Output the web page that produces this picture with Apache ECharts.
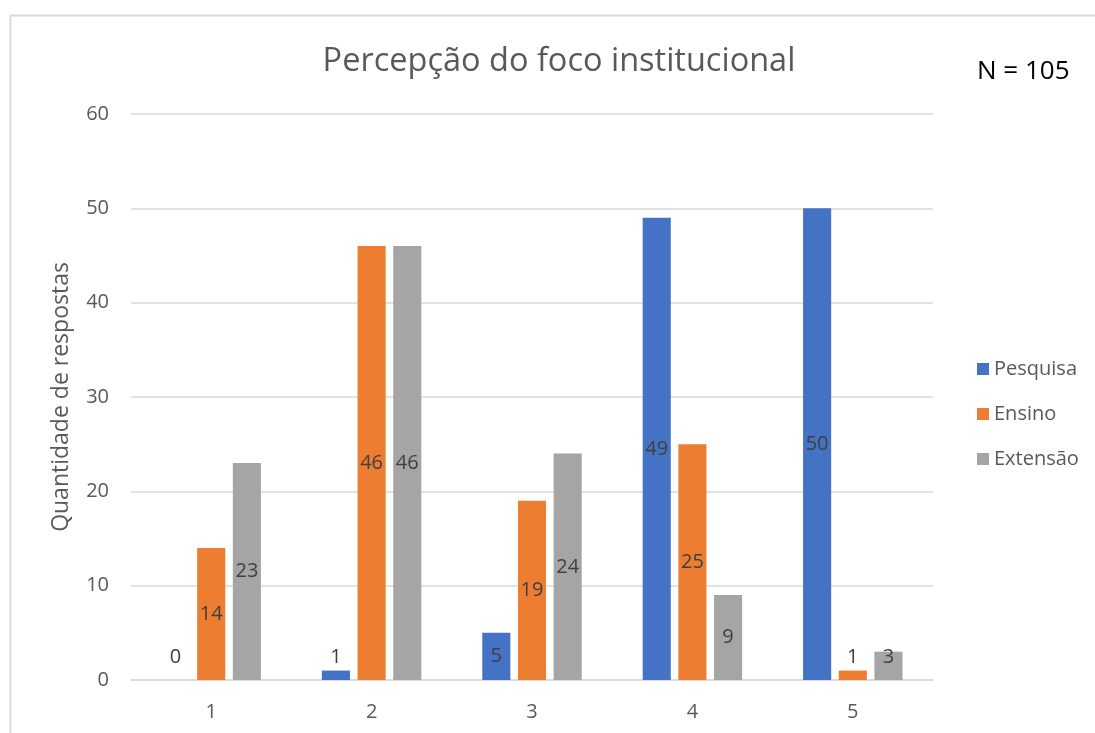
<!DOCTYPE html>
<html>
<head>
<meta charset="utf-8">
<script src="https://cdn.jsdelivr.net/npm/echarts@6/dist/echarts.min.js"></script>
<style>
  html, body { margin: 0; padding: 0; background: #fff; }
  #main { width: 1095px; height: 733px; }
</style>
</head>
<body>
<div id="main"></div>
<script>
var categories = ['1', '2', '3', '4', '5'];
var pesquisa = [0, 1, 5, 49, 50];
var ensino = [14, 46, 19, 25, 1];
var extensao = [23, 46, 24, 9, 3];
var yTicks = [0, 10, 20, 30, 40, 50, 60];

var chartDom = document.getElementById('main');
var myChart = echarts.init(chartDom, null, { renderer: 'canvas' });
var font = '"Open Sans", sans-serif';

// small bars get their label lifted above the axis, like Excel does
function withLabels(values) {
  return values.map(function (v) {
    if (v < 5) {
      return { value: v, label: { position: 'insideBottom', distance: 13 } };
    }
    return v;
  });
}

function barSeries(name, values, color) {
  return {
    name: name,
    type: 'bar',
    data: withLabels(values),
    barGap: '27%',
    barCategoryGap: '38%',
    itemStyle: { color: color },
    label: {
      show: true,
      position: 'inside',
      color: '#404040',
      fontSize: 20,
      fontFamily: font
    }
  };
}

var option = {
  animation: false,
  backgroundColor: '#fff',
  title: {
    text: 'Percepção do foco institucional',
    left: 554,
    top: 40,
    textAlign: 'center',
    textStyle: { color: '#595959', fontSize: 32.5, fontWeight: 'normal', fontFamily: font }
  },
  graphic: [
    {
      type: 'rect',
      shape: { x: 10.5, y: 15.5, width: 1200, height: 800 },
      style: { fill: 'none', stroke: '#D9D9D9', lineWidth: 2 },
      silent: true
    },
    {
      type: 'text',
      left: 977,
      top: 59,
      style: { text: 'N = 105', fill: '#000', fontSize: 26, fontFamily: font }
    }
  ],
  legend: {
    orient: 'vertical',
    left: 972,
    top: 354,
    itemWidth: 12,
    itemHeight: 12,
    itemGap: 25,
    icon: 'rect',
    textStyle: { color: '#595959', fontSize: 20, fontFamily: font }
  },
  grid: { left: 131, right: 162, top: 114, bottom: 53 },
  xAxis: {
    type: 'category',
    data: categories,
    axisLine: { lineStyle: { color: '#D9D9D9', width: 1.5 } },
    axisTick: { show: false },
    axisLabel: { color: '#595959', fontSize: 20, fontFamily: font, margin: 22 }
  },
  yAxis: {
    type: 'value',
    min: yTicks[0],
    max: yTicks[yTicks.length - 1],
    interval: 10,
    name: 'Quantidade de respostas',
    nameLocation: 'middle',
    nameGap: 58,
    nameTextStyle: { color: '#595959', fontSize: 23, fontFamily: font },
    axisLine: { show: false },
    axisTick: { show: false },
    splitLine: { lineStyle: { color: '#D9D9D9', width: 1.5 } },
    axisLabel: { color: '#595959', fontSize: 20, fontFamily: font, margin: 22 }
  },
  series: [
    barSeries('Pesquisa', pesquisa, '#4472C4'),
    barSeries('Ensino', ensino, '#ED7D31'),
    barSeries('Extensão', extensao, '#A5A5A5')
  ]
};
myChart.setOption(option);
</script>
</body>
</html>
